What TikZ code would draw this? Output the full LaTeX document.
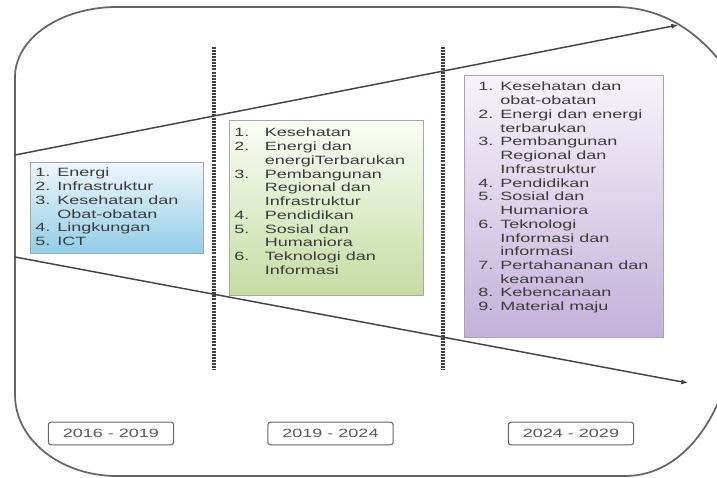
\documentclass[tikz,border=0pt]{standalone}
\usepackage{fontspec}
\setmainfont{Liberation Sans}
\newfontfamily\lebar[FakeStretch=1.5]{Liberation Sans}
\usetikzlibrary{arrows.meta,fit}

\definecolor{abugaris}{HTML}{4A4A4A}
\definecolor{abuteks}{HTML}{3C3C3C}
\definecolor{biruatas}{HTML}{EEF7FB}
\definecolor{birubawah}{HTML}{92CDE8}
\definecolor{hijauatas}{HTML}{FBFDF6}
\definecolor{hijaubawah}{HTML}{C4DDA3}
\definecolor{unguatas}{HTML}{F7F3FA}
\definecolor{ungubawah}{HTML}{C3B2DB}

\newlength\jarak
\newcommand\no[1]{\makebox[\jarak][l]{#1}}

\tikzset{
  bingkai/.style={draw=abugaris!85, line width=1.3pt},
  titik/.style={draw=black!75, line width=2.4pt, dash pattern=on 1.5pt off 0.8pt},
  panah/.style={draw=abugaris!90!black, line width=1.1pt, -{Latex[length=5pt,width=4pt]}},
  kotak/.style={draw=gray!70, line width=0.5pt, inner sep=0pt},
  daftar/.style={anchor=north west, inner sep=0pt, align=left, text=abuteks,
    font=\lebar\fontsize{9pt}{10.3pt}\selectfont,
    execute at begin node={\setlength\jarak{#1}}},
  tahun/.style={draw=gray!80!black, line width=0.8pt, rounded corners=2pt,
    minimum width=94pt, minimum height=17pt, inner sep=0pt, text=gray!70!black,
    font=\lebar\fontsize{9pt}{10.3pt}\selectfont}
}

\begin{document}
\begin{tikzpicture}[x=0.75pt, y=-0.75pt]
  \useasboundingbox (0,0) rectangle (717,478);
  \clip (0,0) rectangle (717,478);

  % frame with round corners
  \draw[bingkai] (15,77) .. controls (15,38) and (61,7) .. (117,7) -- (615,7)
    .. controls (660,7) and (700,30) .. (730,75) -- (730,370)
    .. controls (710,440) and (670,476) .. (625,476) -- (117,476)
    .. controls (61,476) and (15,440) .. (15,395) -- cycle;

  % period borders
  \foreach \x in {214,443}
    \draw[titik] (\x,47) -- (\x,370);

  % the widening arrows
  \coordinate (atas0) at (15,155);
  \coordinate (atas1) at (678,25);
  \coordinate (bawah0) at (15,257);
  \coordinate (bawah1) at (688,383);
  \draw[panah] (atas0) -- (atas1);
  \draw[panah] (bawah0) -- (bawah1);

  % focus lists
  \node[kotak, top color=biruatas, bottom color=birubawah, fit={(30,162) (203,253)}] (blok1) {};
  \node[kotak, top color=hijauatas, bottom color=hijaubawah, fit={(229,120) (423,295)}] (blok2) {};
  \node[kotak, top color=unguatas, bottom color=ungubawah, fit={(464,75) (663,337)}] (blok3) {};

  \node[daftar=16.5pt] (isi1) at (35,168) {%
    \no{1.}Energi\\
    \no{2.}Infrastruktur\\
    \no{3.}Kesehatan dan\\
    \no{}Obat-obatan\\
    \no{4.}Lingkungan\\
    \no{5.}ICT};
  \node[daftar=23pt] (isi2) at (234,128) {%
    \no{1.}Kesehatan\\
    \no{2.}Energi dan\\
    \no{}energiTerbarukan\\
    \no{3.}Pembangunan\\
    \no{}Regional dan\\
    \no{}Infrastruktur\\
    \no{4.}Pendidikan\\
    \no{5.}Sosial dan\\
    \no{}Humaniora\\
    \no{6.}Teknologi dan\\
    \no{}Informasi};
  \node[daftar=16.5pt] (isi3) at (478,82) {%
    \no{1.}Kesehatan dan\\
    \no{}obat-obatan\\
    \no{2.}Energi dan energi\\
    \no{}terbarukan\\
    \no{3.}Pembangunan\\
    \no{}Regional dan\\
    \no{}Infrastruktur\\
    \no{4.}Pendidikan\\
    \no{5.}Sosial dan\\
    \no{}Humaniora\\
    \no{6.}Teknologi\\
    \no{}Informasi dan\\
    \no{}informasi\\
    \no{7.}Pertahananan dan\\
    \no{}keamanan\\
    \no{8.}Kebencanaan\\
    \no{9.}Material maju};

  % periods
  \foreach \x/\lab/\nama in {111/{2016 - 2019}/th1, 330.5/{2019 - 2024}/th2, 571/{2024 - 2029}/th3}
    \node[tahun] (\nama) at (\x,433.5) {\lab};
\end{tikzpicture}
\end{document}
